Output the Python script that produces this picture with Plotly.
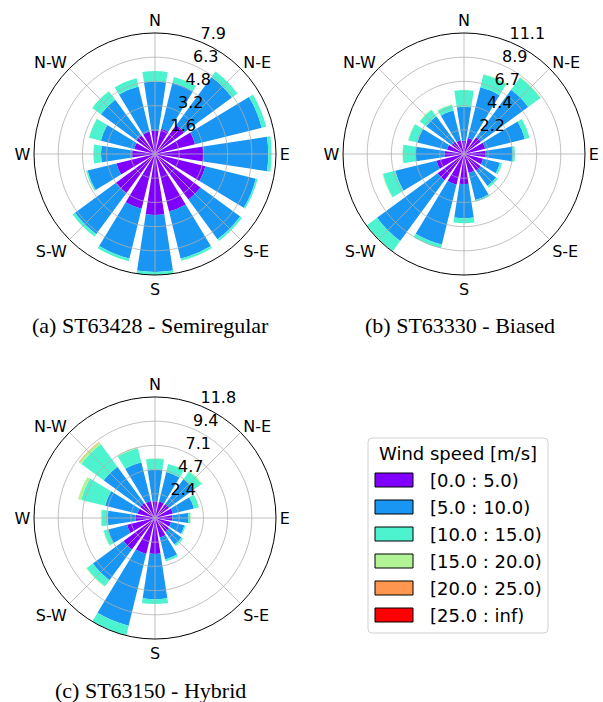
import plotly.graph_objects as go

W, H = 603, 702

directions = ["N", "NNE", "NE", "ENE", "E", "ESE", "SE", "SSE",
              "S", "SSW", "SW", "WSW", "W", "WNW", "NW", "NNW"]
dir_angles = [i * 22.5 for i in range(16)]

bin_labels = ["[0.0 : 5.0)", "[5.0 : 10.0)", "[10.0 : 15.0)",
              "[15.0 : 20.0)", "[20.0 : 25.0)", "[25.0 : inf)"]
bin_colors = ["#8000ff", "#1996f3", "#4df3ce", "#b2f396", "#ff964f", "#ff0000"]

compass_vals = [0, 45, 90, 135, 180, 225, 270, 315]
compass_text = ["N", "N-E", "E", "S-E", "S", "S-W", "W", "N-W"]

# frequency per speed bin (rows) and direction (columns)
st63428 = [
    [1.53, 1.70, 2.35, 2.70, 3.20, 3.40, 3.70, 3.87, 4.00, 3.70, 3.20, 2.60, 1.50, 1.40, 1.50, 1.50],
    [3.21, 3.10, 3.90, 4.50, 4.22, 3.40, 3.22, 3.18, 3.72, 3.35, 3.30, 1.95, 2.04, 2.25, 2.90, 3.05],
    [0.70, 0.40, 0.45, 0.30, 0.22, 0.12, 0.15, 0.15, 0.205, 0.18, 0.20, 0.10, 0.50, 0.80, 0.70, 0.55],
    [0.0, 0.0, 0.0, 0.0, 0.0, 0.0, 0.0, 0.0, 0.0, 0.0, 0.0, 0.0, 0.0, 0.02, 0.02, 0.0],
    [0.0] * 16,
    [0.0] * 16,
]
st63330 = [
    [1.22, 1.50, 1.90, 2.00, 2.00, 1.80, 1.90, 1.80, 2.75, 2.90, 3.00, 2.60, 1.80, 1.60, 1.40, 1.30],
    [3.12, 4.80, 5.40, 3.75, 2.45, 1.60, 1.75, 2.55, 3.15, 5.65, 6.90, 3.90, 2.63, 2.80, 2.90, 2.80],
    [1.53, 1.20, 1.40, 0.45, 0.23, 0.20, 0.20, 0.15, 0.46, 0.35, 1.15, 1.15, 1.20, 0.85, 0.73, 0.55],
    [0.0, 0.05, 0.05, 0.0, 0.0, 0.0, 0.0, 0.0, 0.0, 0.0, 0.05, 0.05, 0.03, 0.05, 0.05, 0.05],
    [0.0] * 16,
    [0.0] * 16,
]
st63150 = [
    [1.62, 1.66, 1.70, 1.80, 1.70, 1.60, 1.70, 1.95, 3.50, 3.60, 3.80, 2.80, 1.90, 1.75, 1.80, 1.70],
    [3.08, 2.94, 3.00, 2.10, 1.55, 1.35, 1.50, 2.20, 4.40, 7.20, 3.70, 1.90, 2.70, 3.25, 4.40, 3.90],
    [1.08, 0.80, 0.90, 0.50, 0.20, 0.13, 0.20, 0.20, 0.48, 0.95, 0.75, 0.45, 0.60, 2.40, 2.70, 1.40],
    [0.03, 0.0, 0.10, 0.03, 0.05, 0.0, 0.0, 0.0, 0.0, 0.03, 0.05, 0.05, 0.10, 0.30, 0.25, 0.10],
    [0.0, 0.0, 0.0, 0.0, 0.0, 0.0, 0.0, 0.0, 0.0, 0.0, 0.0, 0.0, 0.0, 0.0, 0.05, 0.0],
    [0.0] * 16,
]

stations = [st63428, st63330, st63150]
captions = ["(a) ST63428 - Semiregular", "(b) ST63330 - Biased", "(c) ST63150 - Hybrid"]

GRID = "#b0b0b0"
RADIAL_ANGLE = 72


def px_x(x):
    return x / W


def px_y(y):
    return 1 - y / H


# subplot layout (pixel centres, radius)
centres = [(155, 154), (464, 154), (155, 518)]
radius = 121
caption_pos = [(150, 325), (460, 325), (150, 690)]

fig = go.Figure()
circle_theta = [i * 2.0 for i in range(181)]

for k, table in enumerate(stations):
    sub = "polar" if k == 0 else f"polar{k + 1}"
    for b, vals in enumerate(table):
        fig.add_trace(go.Barpolar(
            r=vals, theta=dir_angles, width=[17.5] * 16,
            marker=dict(color=bin_colors[b], line=dict(width=0)),
            name=bin_labels[b], showlegend=False, subplot=sub,
            hoverinfo="skip",
        ))
    totals = [sum(table[b][i] for b in range(len(table))) for i in range(16)]
    rmax = max(totals)
    tickvals = [rmax * j / 5 for j in range(1, 6)]
    # trailing empty line lifts each label slightly above its ring (as matplotlib does)
    ticktext = [f"{v:.1f}<br> " for v in tickvals]

    # grid drawn above the bars (as in the reference)
    for tv in tickvals[:-1]:
        fig.add_trace(go.Scatterpolar(
            r=[tv] * len(circle_theta), theta=circle_theta, mode="lines",
            line=dict(color=GRID, width=0.8), subplot=sub,
            showlegend=False, hoverinfo="skip",
        ))
    for a in compass_vals:
        fig.add_trace(go.Scatterpolar(
            r=[0, rmax], theta=[a, a], mode="lines",
            line=dict(color=GRID, width=0.8), subplot=sub,
            showlegend=False, hoverinfo="skip",
        ))

    cx, cy = centres[k]
    fig.layout[sub] = dict(
        domain=dict(x=[px_x(cx - radius), px_x(cx + radius)],
                    y=[px_y(cy + radius), px_y(cy - radius)]),
        bgcolor="white",
        barmode="stack",
        angularaxis=dict(
            rotation=90, direction="clockwise",
            tickmode="array", tickvals=compass_vals, ticktext=compass_text,
            showline=True, linecolor="black", linewidth=1,
            showgrid=False,
            ticks="", tickfont=dict(family="DejaVu Sans", size=16, color="black"),
            layer="above traces",
        ),
        radialaxis=dict(
            range=[0, rmax], tickmode="array", tickvals=tickvals, ticktext=ticktext,
            angle=RADIAL_ANGLE, side="clockwise", tickangle=RADIAL_ANGLE,
            showline=False, ticks="",
            showgrid=False,
            tickfont=dict(family="DejaVu Sans", size=16, color="black"),
            layer="above traces",
        ),
    )

annotations = []
for k, cap in enumerate(captions):
    x, y = caption_pos[k]
    annotations.append(dict(
        x=px_x(x), y=px_y(y), xref="paper", yref="paper", text=cap,
        showarrow=False, xanchor="center", yanchor="middle",
        font=dict(family="Liberation Serif", size=22, color="black"),
    ))

# legend (drawn as shapes + text)
shapes = []
bx0, by0, bx1, by1 = 368, 438, 548, 633
rr = 4
path = (f"M {px_x(bx0 + rr)},{px_y(by0)} L {px_x(bx1 - rr)},{px_y(by0)} "
        f"Q {px_x(bx1)},{px_y(by0)} {px_x(bx1)},{px_y(by0 + rr)} "
        f"L {px_x(bx1)},{px_y(by1 - rr)} Q {px_x(bx1)},{px_y(by1)} {px_x(bx1 - rr)},{px_y(by1)} "
        f"L {px_x(bx0 + rr)},{px_y(by1)} Q {px_x(bx0)},{px_y(by1)} {px_x(bx0)},{px_y(by1 - rr)} "
        f"L {px_x(bx0)},{px_y(by0 + rr)} Q {px_x(bx0)},{px_y(by0)} {px_x(bx0 + rr)},{px_y(by0)} Z")
shapes.append(dict(type="path", path=path, xref="paper", yref="paper",
                   line=dict(color="#d0d0d0", width=1), fillcolor="white"))
annotations.append(dict(
    x=px_x((bx0 + bx1) / 2), y=px_y(453), xref="paper", yref="paper",
    text="Wind speed [m/s]", showarrow=False, xanchor="center", yanchor="middle",
    font=dict(family="DejaVu Sans", size=18, color="black"),
))
for b, lab in enumerate(bin_labels):
    yc = 480 + 27 * b
    shapes.append(dict(type="rect", xref="paper", yref="paper",
                       x0=px_x(375), x1=px_x(413), y0=px_y(yc + 7), y1=px_y(yc - 7),
                       fillcolor=bin_colors[b], line=dict(color="black", width=1)))
    annotations.append(dict(
        x=px_x(428), y=px_y(yc), xref="paper", yref="paper", text=lab,
        showarrow=False, xanchor="left", yanchor="middle",
        font=dict(family="DejaVu Sans", size=18, color="black"),
    ))

fig.update_layout(
    width=W, height=H, autosize=False,
    margin=dict(l=0, r=0, t=0, b=0),
    paper_bgcolor="white", plot_bgcolor="white",
    showlegend=False,
    annotations=annotations, shapes=shapes,
)

fig.write_html("out.html")
